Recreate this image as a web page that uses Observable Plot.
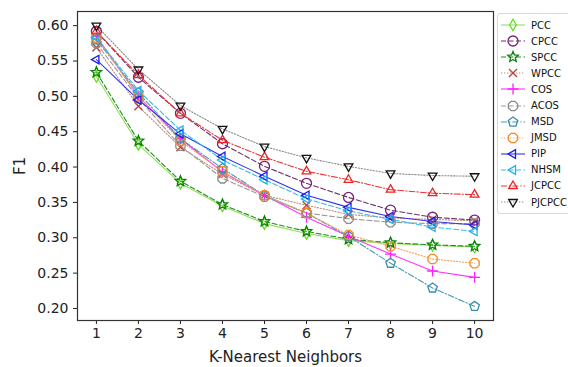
<!DOCTYPE html>
<html><head><meta charset="utf-8">
<script src="https://cdn.jsdelivr.net/npm/d3@7"></script>
<script src="https://cdn.jsdelivr.net/npm/@observablehq/plot@0.6"></script>
<style>
html,body{margin:0;padding:0;background:#fff;}
#wrap{position:relative;width:568px;height:367px;overflow:hidden;font-family:"DejaVu Sans",sans-serif;}
#legend{position:absolute;left:497px;top:13px;width:90px;border:1px solid #d8d8d8;border-radius:3px;background:#fff;padding:3px 0 3px 0;}
.row{display:flex;align-items:center;height:16.1px;font-size:10px;color:#111;white-space:nowrap;}
.row svg{margin-left:2px;margin-right:5px;flex:none;}
</style></head>
<body><div id="wrap"><div id="chart"></div><div id="legend"></div></div>
<script>
const k = [1,2,3,4,5,6,7,8,9,10];
const methods = ["PCC","CPCC","SPCC","WPCC","COS","ACOS","MSD","JMSD","PIP","NHSM","JCPCC","PJCPCC"];
const PCC    = [0.528,0.432,0.377,0.345,0.320,0.306,0.296,0.292,0.289,0.287];
const SPCC   = [0.534,0.437,0.380,0.347,0.323,0.309,0.298,0.293,0.290,0.288];
const CPCC   = [0.592,0.527,0.476,0.433,0.401,0.377,0.357,0.339,0.329,0.325];
const WPCC   = [0.569,0.486,0.428,0.390,0.360,0.346,0.333,0.328,0.326,0.324];
const COS    = [0.585,0.500,0.440,0.393,0.360,0.329,0.302,0.277,0.253,0.244];
const ACOS   = [0.575,0.497,0.430,0.384,0.358,0.335,0.327,0.322,0.320,0.320];
const MSD    = [0.580,0.505,0.440,0.398,0.360,0.335,0.302,0.264,0.229,0.203];
const JMSD   = [0.583,0.500,0.437,0.394,0.360,0.335,0.304,0.288,0.270,0.264];
const PIP    = [0.552,0.495,0.447,0.415,0.387,0.360,0.343,0.330,0.323,0.318];
const NHSM   = [0.583,0.508,0.452,0.410,0.382,0.355,0.338,0.326,0.315,0.309];
const JCPCC  = [0.592,0.530,0.476,0.438,0.414,0.394,0.382,0.368,0.363,0.361];
const PJCPCC = [0.600,0.538,0.487,0.454,0.429,0.413,0.401,0.391,0.388,0.387];
const values = {PCC,CPCC,SPCC,WPCC,COS,ACOS,MSD,JMSD,PIP,NHSM,JCPCC,PJCPCC};
const yTicks = [0.20,0.25,0.30,0.35,0.40,0.45,0.50,0.55,0.60];

// custom symbols
function poly(n, rot){ return {draw(ctx,size){const r=Math.sqrt(size/Math.PI);for(let i=0;i<n;i++){const a=rot+2*Math.PI*i/n;const x=r*Math.cos(a),y=r*Math.sin(a);i?ctx.lineTo(x,y):ctx.moveTo(x,y);}ctx.closePath();}}; }
const triUp = poly(3,-Math.PI/2), triDown = poly(3,Math.PI/2), triLeft = poly(3,Math.PI);
const pentagon = poly(5,-Math.PI/2), octagon = poly(8,Math.PI/8);
const thinDiamond = {draw(ctx,size){const r=Math.sqrt(size/Math.PI);ctx.moveTo(0,-r*1.15);ctx.lineTo(r*0.65,0);ctx.lineTo(0,r*1.15);ctx.lineTo(-r*0.65,0);ctx.closePath();}};
const plusS = {draw(ctx,size){const r=Math.sqrt(size/Math.PI)*1.1;ctx.moveTo(-r,0);ctx.lineTo(r,0);ctx.moveTo(0,-r);ctx.lineTo(0,r);}};
const timesS = {draw(ctx,size){const r=Math.sqrt(size/Math.PI)*0.8;ctx.moveTo(-r,-r);ctx.lineTo(r,r);ctx.moveTo(-r,r);ctx.lineTo(r,-r);}};
const starS = {draw(ctx,size){const R=Math.sqrt(size/Math.PI)*1.1,r=R*0.45;for(let i=0;i<10;i++){const a=-Math.PI/2+Math.PI*i/5;const rr=i%2?r:R;const x=rr*Math.cos(a),y=rr*Math.sin(a);i?ctx.lineTo(x,y):ctx.moveTo(x,y);}ctx.closePath();}};
const circleS = {draw(ctx,size){const r=Math.sqrt(size/Math.PI);ctx.moveTo(r,0);ctx.arc(0,0,r,0,2*Math.PI);}};

const DASH="5,2.5", DOT="1.3,1.7", DASHDOT="6,2,1.3,2";
const style = {
  PCC:   {line:"#8ee05a", mark:"#66dd22", dash:null, sym:thinDiamond},
  CPCC:  {line:"#6b2f6b", mark:"#7a1f7a", dash:DASH, sym:circleS},
  SPCC:  {line:"#1f8f1f", mark:"#0a800a", dash:DASH, sym:starS},
  WPCC:  {line:"#c08a80", mark:"#b5443a", dash:DOT, sym:timesS},
  COS:   {line:"#ff33ff", mark:"#ff22ff", dash:null, sym:plusS},
  ACOS:  {line:"#999999", mark:"#8c8c8c", dash:DASH, sym:octagon},
  MSD:   {line:"#4a9ab0", mark:"#3b8fae", dash:DASHDOT, sym:pentagon},
  JMSD:  {line:"#f5a55a", mark:"#f28a2a", dash:DOT, sym:octagon},
  PIP:   {line:"#3333ee", mark:"#1a1aee", dash:null, sym:triLeft},
  NHSM:  {line:"#33bbee", mark:"#22b0ee", dash:DASH, sym:triLeft},
  JCPCC: {line:"#ee3333", mark:"#ee2222", dash:DASHDOT, sym:triUp},
  PJCPCC:{line:"#888888", mark:"#111111", dash:DOT, sym:triDown}
};
const R = 5;

const rows = methods.flatMap(m => k.map((kk,i)=>({method:m,k:kk,f1:values[m][i]})));
const marks = [];
for (const m of methods) {
  const d = rows.filter(r=>r.method===m), s=style[m];
  marks.push(Plot.line(d,{x:"k",y:"f1",stroke:s.line,strokeWidth:1.1,strokeDasharray:s.dash||undefined}));
}
for (const m of methods) {
  const d = rows.filter(r=>r.method===m), s=style[m];
  marks.push(Plot.dot(d,{x:"k",y:"f1",symbol:()=>s.sym,r:R,stroke:s.mark,fill:"none",strokeWidth:1.3}));
}

const chart = Plot.plot({
  width:568, height:367,
  marginLeft:77, marginRight:75, marginTop:11, marginBottom:47,
  style:{fontFamily:"DejaVu Sans, sans-serif", fontSize:"14px", color:"#222", background:"#fff"},
  x:{domain:[0.55,10.45]},
  y:{domain:[0.183,0.62]},
  symbol:{type:"identity"},
  marks:[
    Plot.axisX({ticks:k, tickFormat:d=>String(d), tickSize:4, tickPadding:4, fontSize:14, label:"K-Nearest Neighbors", labelAnchor:"center", labelOffset:41, labelArrow:"none"}),
    Plot.axisY({ticks:yTicks, tickFormat:d3.format(".2f"), tickSize:4, tickPadding:5, fontSize:14, label:"F1", labelAnchor:"center", labelOffset:63, labelArrow:"none"}),
    ...marks,
    Plot.frame({stroke:"#333", strokeWidth:1.2})
  ]
});
document.getElementById("chart").appendChild(chart);
d3.select(chart).selectAll("[aria-label='x-axis label'] text, [aria-label='y-axis label'] text").style("font-size","15px");

// legend
const leg = d3.select("#legend");
for (const m of methods) {
  const s = style[m];
  const row = leg.append("div").attr("class","row");
  const svg = row.append("svg").attr("width",26).attr("height",14);
  svg.append("line").attr("x1",1).attr("x2",25).attr("y1",7).attr("y2",7)
    .attr("stroke",s.line).attr("stroke-width",1.1).attr("stroke-dasharray",s.dash);
  svg.append("path").attr("transform","translate(13,7)")
    .attr("d",d3.symbol(s.sym, Math.PI*R*R)()).attr("fill","none").attr("stroke",s.mark).attr("stroke-width",1.3);
  row.append("span").text(m);
}
</script></body></html>
